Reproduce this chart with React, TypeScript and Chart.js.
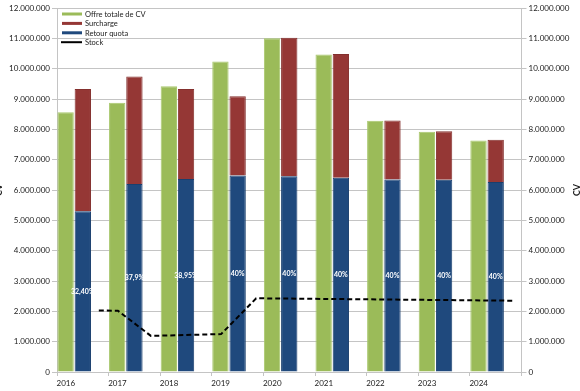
import React, { useEffect, useRef } from "react";
import { Chart, registerables } from "chart.js";

Chart.register(...registerables);

const years = ["2016", "2017", "2018", "2019", "2020", "2021", "2022", "2023", "2024"];
const offreTotale = [8560000, 8880000, 9420000, 10240000, 11000000, 10470000, 8280000, 7920000, 7630000];
const retourQuota = [5300000, 6200000, 6360000, 6480000, 6450000, 6400000, 6350000, 6340000, 6260000];
const surcharge = [4030000, 3540000, 2970000, 2610000, 4570000, 4080000, 1940000, 1600000, 1400000];
const retourLabels = ["32,40%", "37,9%", "38,95%", "40%", "40%", "40%", "40%", "40%", "40%"];
const stockDates = [2016.81, 2017.18, 2017.82, 2019.18, 2019.86, 2024.86];
const stockValues = [2030000, 2020000, 1190000, 1250000, 2430000, 2350000];

const legendItems = [
  { label: "Offre totale de CV", color: "#9bbb59", line: false },
  { label: "Surcharge", color: "#953735", line: false },
  { label: "Retour quota", color: "#1f497d", line: false },
  { label: "Stock", color: "#000000", line: true },
];

const FONT = "Lato, 'Liberation Sans', sans-serif";
const GRID = "#c4c4c4";

const fmt = (v: number) => String(Math.round(v)).replace(/\B(?=(\d{3})+(?!\d))/g, ".");

const overlayPlugin = {
  id: "overlay",
  afterDatasetsDraw(chart: any) {
    const ctx = chart.ctx;
    const area = chart.chartArea;
    const meta = chart.getDatasetMeta(1);
    ctx.save();
    ctx.fillStyle = "#ffffff";
    ctx.font = `bold 7px ${FONT}`;
    ctx.textAlign = "center";
    ctx.textBaseline = "middle";
    meta.data.forEach((el: any, i: number) => {
      const cy = (el.y + el.base) / 2;
      ctx.fillText(retourLabels[i], el.x, cy);
    });
    ctx.restore();

    ctx.save();
    ctx.font = `7.5px ${FONT}`;
    ctx.textBaseline = "middle";
    ctx.textAlign = "left";
    legendItems.forEach((it, i) => {
      const y = area.top + 6 + i * 9.4;
      const x0 = area.left + 5;
      if (it.line) {
        ctx.strokeStyle = it.color;
        ctx.lineWidth = 2;
        ctx.beginPath();
        ctx.moveTo(x0 - 1, y);
        ctx.lineTo(x0 + 20, y);
        ctx.stroke();
      } else {
        ctx.fillStyle = it.color;
        ctx.fillRect(x0, y - 1.5, 20, 3);
      }
      ctx.fillStyle = "#1a1a1a";
      ctx.fillText(it.label, x0 + 23, y + 0.5);
    });
    ctx.restore();
  },
  afterDraw(chart: any) {
    const ctx = chart.ctx;
    const draw = (x: number) => {
      ctx.save();
      ctx.fillStyle = "#1a1a1a";
      ctx.font = `bold 9px ${FONT}`;
      ctx.textAlign = "center";
      ctx.textBaseline = "middle";
      ctx.translate(x, 190);
      ctx.rotate(-Math.PI / 2);
      ctx.fillText("CV", 0, 0);
      ctx.restore();
    };
    draw(-1);
    draw(577);
  },
};

export default function App() {
  const ref = useRef<HTMLCanvasElement | null>(null);

  useEffect(() => {
    if (!ref.current) return;
    const chart = new Chart(ref.current, {
      type: "bar",
      data: {
        labels: years,
        datasets: [
          {
            type: "line",
            label: "Stock",
            data: stockDates.map((d, i) => ({ x: d, y: stockValues[i] })),
            xAxisID: "x2",
            yAxisID: "y2",
            borderColor: "#000000",
            borderWidth: 2,
            borderDash: [5, 3],
            pointRadius: 0,
            fill: false,
            tension: 0,
            order: 0,
          } as any,
          {
            label: "Retour quota",
            data: retourQuota,
            backgroundColor: "#1f497d",
            borderColor: "#1a3f6e",
            borderWidth: 1,
            stack: "b",
            grouped: false,
            categoryPercentage: 1 / 3,
            barPercentage: 0.95,
            order: 1,
          },
          {
            label: "Surcharge",
            data: surcharge,
            backgroundColor: "#953735",
            borderColor: "#84302e",
            borderWidth: 1,
            stack: "b",
            grouped: false,
            categoryPercentage: 1 / 3,
            barPercentage: 0.95,
            order: 1,
          },
          {
            label: "Offre totale de CV",
            data: offreTotale.map((v, i) => ({ x: i, y: v })),
            xAxisID: "xg",
            backgroundColor: "#9bbb59",
            borderColor: "#a9c86e",
            borderWidth: 1,
            stack: "a",
            grouped: false,
            categoryPercentage: 1 / 3,
            barPercentage: 0.95,
            order: 1,
          } as any,
        ],
      },
      options: {
        animation: false,
        responsive: false,
        maintainAspectRatio: false,
        layout: { padding: { top: 8, left: 0, right: 0, bottom: 0 } },
        plugins: {
          legend: { display: false },
          tooltip: { enabled: false },
        },
        scales: {
          x: {
            type: "category",
            offset: true,
            grid: { offset: true, drawOnChartArea: false, color: GRID, tickLength: 4 },
            border: { color: GRID },
            ticks: { labelOffset: -17, padding: 3, color: "#1a1a1a", font: { family: FONT, size: 8 }, autoSkip: false, maxRotation: 0 },
            afterFit: (s: any) => { s.height = 19; },
          },
          xg: {
            type: "linear",
            display: false,
            offset: false,
            grid: { offset: false },
            min: -1 / 6,
            max: 53 / 6,
            ticks: { stepSize: 1 },
          },
          x2: {
            type: "linear",
            display: false,
            offset: false,
            min: 2016,
            max: 2025,
            ticks: { stepSize: 1 },
          },
          y: {
            position: "left",
            stacked: true,
            min: 0,
            max: 12000000,
            grid: { color: GRID, tickLength: 5 },
            border: { color: GRID },
            ticks: { stepSize: 1000000, padding: 2, color: "#1a1a1a", font: { family: FONT, size: 8 }, callback: (v: any) => fmt(Number(v)) },
            afterFit: (s: any) => { s.width = 57; },
          },
          y2: {
            position: "right",
            min: 0,
            max: 12000000,
            grid: { drawOnChartArea: false, color: GRID, tickLength: 5 },
            border: { color: GRID },
            ticks: { stepSize: 1000000, padding: 2, color: "#1a1a1a", font: { family: FONT, size: 8 }, callback: (v: any) => fmt(Number(v)) },
            afterFit: (s: any) => { s.width = 58.5; },
          },
        },
      } as any,
      plugins: [overlayPlugin],
    });
    return () => chart.destroy();
  }, []);

  return (
    <div style={{ position: "fixed", left: 0, top: 0, width: 580, height: 391, background: "#ffffff" }}>
      <canvas ref={ref} width={580} height={391} style={{ display: "block" }} />
    </div>
  );
}
